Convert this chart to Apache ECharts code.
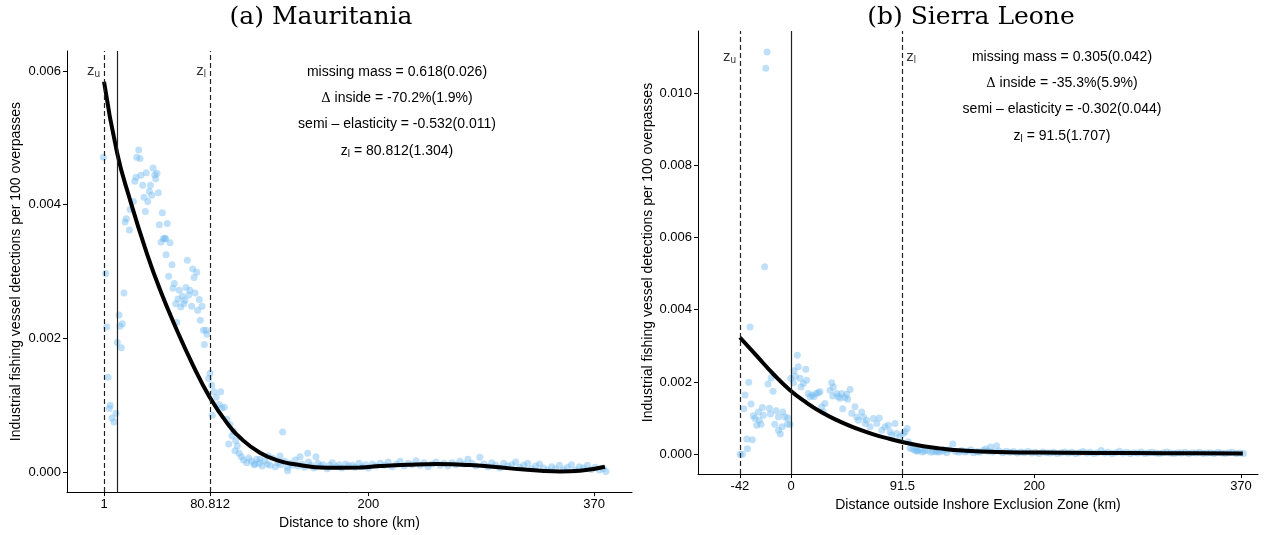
<!DOCTYPE html>
<html><head><meta charset="utf-8">
<script src="https://cdn.jsdelivr.net/npm/echarts@6/dist/echarts.min.js"></script>
<style>html,body{margin:0;padding:0;background:#fff}#c{width:1273px;height:535px}</style>
</head><body><div id="c"></div>
<script>
// ---------- DATA ----------
const titles = ['(a) Mauritania', '(b) Sierra Leone'];
const yName = 'Industrial fishing vessel detections per 100 overpasses';
const xNames = ['Distance to shore (km)', 'Distance outside Inshore Exclusion Zone (km)'];

const xTicksA = [1, 80.812, 200, 370];
const yTicksA = [0, 0.002, 0.004, 0.006];
const xTicksB = [-42, 0, 91.5, 200, 370];
const yTicksB = [0, 0.002, 0.004, 0.006, 0.008, 0.010];

// vertical reference lines: [x, type]
const vLinesA = [[1, 'dashed'], [10.8, 'solid'], [80.812, 'dashed']];
const vLinesB = [[-42, 'dashed'], [0, 'solid'], [91.5, 'dashed']];
// z labels: [x, y, subscript, side]
const zLabelsA = [[1, 0.006, 'u', 'left'], [80.812, 0.006, 'l', 'left']];
const zLabelsB = [[-42, 0.0110, 'u', 'left'], [91.5, 0.0110, 'l', 'right']];

const statsA = ['missing mass = 0.618(0.026)', 'Δ inside = -70.2%(1.9%)', 'semi – elasticity = -0.532(0.011)', '80.812(1.304)'];
const statsB = ['missing mass = 0.305(0.042)', 'Δ inside = -35.3%(5.9%)', 'semi – elasticity = -0.302(0.044)', '91.5(1.707)'];

// Mauritania scatter (distance km, detections)
const pointsA = [
 [0.5,0.00471],[2.3,0.00297],[3,0.00217],[4,0.00142],[5.7,0.001],[5,0.00095],[7,0.00081],[8.5,0.00075],[10,0.00088],
 [11,0.00194],[12.3,0.00235],[13,0.00218],[14,0.00186],[14.8,0.00222],[16,0.00268],
 [16.8,0.00374],[17.8,0.00379],[20.1,0.00362],[20.6,0.00393],[23.1,0.00405],[24.1,0.00435],[25.1,0.00441],[25.6,0.00471],
 [27.1,0.00482],[28.1,0.00469],[28.8,0.00444],[30.1,0.00429],[31.1,0.00411],[32.1,0.0039],[32.8,0.00448],[33.9,0.00405],
 [35.1,0.0042],[35.9,0.00429],[36.9,0.00414],[37.9,0.00455],[39.2,0.00445],[39.9,0.00439],[40.9,0.00447],[41.9,0.00418],
 [42.6,0.0037],[43.9,0.00344],[44.9,0.00388],[45.6,0.00349],[46.7,0.0035],[47.4,0.00349],[47.7,0.00325],[48.6,0.00372],
 [49.7,0.00293],[50.7,0.00343],[52.2,0.0031],[52.9,0.00275],[53.9,0.00282],[55,0.00252],[55.7,0.00224],[56.7,0.00259],
 [57.7,0.00272],[58.7,0.00247],[60,0.00263],[61,0.00252],[62,0.00257],[62.7,0.00276],[63.7,0.00317],[64.8,0.00265],
 [65.7,0.00272],[67,0.00248],[67.8,0.00304],[68.8,0.00291],[69.5,0.00268],[70.8,0.00299],[71.5,0.00242],[72.7,0.00258],
 [73.5,0.00227],[74.8,0.00248],[75.8,0.00212],[76.5,0.00191],[77.8,0.00212],[78.5,0.00206],
 [79.8,0.0014],[80.8,0.00148],[82.1,0.0013],[82.5,0.00085],[83.8,0.0012],[85.5,0.00112],[87.6,0.00101],[88.8,0.0012],
 [89.6,0.00096],[91.6,0.00097],[93.4,0.00079],[94.9,0.00042],[95.9,0.00071],[97.4,0.00054],[98.5,0.00061],[99.6,0.00032],
 [100.2,0.00047],[101.4,0.00039],[102.8,0.00028],[104.4,0.00023],[106,0.00018],[108.4,0.00014],[110,0.00021],
 [112,0.00016],[114,0.00011],[114.7,0.00012],[116,0.00019],[118,0.00013],[118.4,0.00019],[120,0.00009],[122,0.00017],
 [124,0.00012],[124.7,0.00024],[126,0.0001],[128,0.00021],[130,0.00008],[132,0.00014],[133.5,0.00024],[134,0.00011],
 [135.5,0.0006],[137,0.00016],[139,0.00007],[139.3,0.00002],[141,0.00013],[143,0.0001],[145,0.00018],[147,0.00009],
 [148.6,0.00023],[150,0.00012],[152,0.00007],[154.4,0.00028],[155,0.00015],[157,0.0001],[159,0.00006],[160.6,0.00023],
 [162,0.00013],[164,0.00009],[166,0.00011],[169,0.00005],[171,0.0001],[173,0.00014],[176,0.00008],[178,0.00011],
 [180,0.00006],[183,0.00012],[185,0.00009],[188,0.0001],[190,0.00007],[193,0.00013],[195,0.00008],[198,0.00011],
 [200,0.00006],[203,0.00012],[206,0.00009],[209,0.00013],[212,0.0001],[215,0.00015],[218,0.00008],[221,0.00012],
 [224,0.00016],[227,0.00009],[230,0.00013],[233,0.00011],[236,0.00017],[239,0.0001],[242,0.00014],[245,0.00008],
 [248,0.00012],[251,0.00015],[254,0.0001],[257,0.00013],[260,0.00009],[263,0.00014],[266,0.00011],[269,0.00016],
 [272,0.00012],[275,0.00019],[278,0.00013],[281,0.00009],[284,0.00022],[287,0.00012],[290,0.00008],[293,0.00014],
 [296,0.0001],[299,0.00006],[302,0.00013],[305,0.00009],[308,0.00011],[311,0.00015],[314,0.00007],[317,0.0001],
 [320,0.00013],[323,0.00005],[326,0.00009],[329,0.00012],[332,0.00006],[335,0.00003],[338,0.00008],[341,0.00005],
 [344,0.0001],[347,0.00004],[350,0.00007],[353,0.00011],[356,0.00003],[359,0.00008],[362,0.00006],[365,0.0001],
 [368,0.00004],[371,0.00007],[374,0.00003],[377,0.00005],[379,0.00001]
];
// Mauritania fitted curve
const curveA = [
 [1,0.00584],[10.8,0.00478],[20.6,0.00407],[33.1,0.00328],[43.1,0.00273],[55.7,0.00213],[68.2,0.00159],[80,0.00114],
 [93.4,0.00074],[105.9,0.00047],[118.4,0.00029],[131,0.00018],[143.5,0.00012],[168.7,0.000065],[193.7,0.000068],
 [208.8,0.00009],[230,0.00011],[251.5,0.00012],[276.6,0.000104],[306.7,0.000055],[330,0.00002],[344.3,0.000008],
 [359.4,0.00002],[378.2,0.00008]
];

// Sierra Leone scatter
const pointsB = [
 [-41.9,0],[-40,0],[-37.8,0.00164],[-38.9,0.00126],[-36.4,0.00042],[-35.9,0.00015],[-34.8,0.00199],[-33.7,0.00352],
 [-32.9,0.00139],[-31.8,0.0004],[-31,0.00106],[-29.6,0.00099],[-28.2,0.0008],[-26.9,0.00117],[-26.1,0.00094],
 [-24.7,0.00083],[-23.6,0.00129],[-22.8,0.00108],[-21.7,0.00519],[-20.8,0.01069],[-19.7,0.01114],[-18.9,0.00194],
 [-17.8,0.00127],[-17,0.00111],[-16.4,0.00211],[-14.8,0.00174],[-13.4,0.00083],[-12.3,0.0012],[-10.4,0.00103],
 [-10.4,0.00066],[-8.8,0.00056],[-7.4,0.00076],[-6.8,0.00117],[-4.9,0.00103],[-3,0.00083],[-2.7,0.001],[-0.8,0.00083],
 [-0.2,0.0021],[1.9,0.00198],[2.5,0.00231],[3.5,0.00216],[5.2,0.00274],[6,0.00242],[7.4,0.0021],[8.2,0.00186],
 [10.1,0.00196],[12.1,0.00235],[12.9,0.00205],[14.2,0.00168],[15.6,0.00159],[17.5,0.00163],[18.9,0.00159],[20.6,0.00168],
 [22.5,0.0017],[23.8,0.00173],[25.2,0.00131],[26.6,0.00117],[27.9,0.0014],[32.1,0.00177],[33.4,0.00198],[34.8,0.00186],
 [34.3,0.00161],[37.6,0.00168],[38.9,0.00159],[40.3,0.00155],[41.7,0.00168],[42.5,0.00126],[44.4,0.00157],[45.8,0.00166],
 [46.6,0.00152],[48.5,0.00179],[49.9,0.00113],[52.6,0.00131],[54,0.00103],[55.3,0.00094],[58.1,0.00117],[60.9,0.00085],
 [59.5,0.00103],[62.2,0.00094],[65,0.00076],[67.7,0.00099],[70.5,0.00085],[72.6,0.001],[74.6,0.00066],[77.3,0.00076],
 [80,0.0008],[81.4,0.00062],[82.8,0.00053],[85.5,0.00085],[86.9,0.00057],[89.6,0.00048],[92.4,0.00057],[93.8,0.00062],
 [95.6,0.00071],[96.5,0.00034],[97.9,0.00016],
 [100,0.00014],[102,0.0001],[103.4,0.00011],[104,0.00008],[106,0.00012],[108,0.00006],[110,0.00009],[112,0.00011],
 [115,0.00005],[117,0.00008],[119.8,0.00006],[120,0.0001],[122,0.00006],[125,0.00009],[125.2,0.00013],[128,0.00004],
 [130,0.00012],[133,0.00028],[135,0.00007],[138,0.00005],[140,0.0001],[143,0.00006],[145,0.00008],[148,0.00012],
 [150,0.00004],[153,0.00007],[155,0.00005],[158,0.0001],[160,0.00014],[162,0.00008],[164,0.0002],[166,0.00006],
 [169,0.00023],[171,0.00009],[174,0.00004],[177,0.00008],[180,0.00005],[183,0.00007],[186,0.00003],[189,0.00006],
 [192,0.00004],[195,0.00007],[198,0.00003],[201,0.00005],[204,0.00002],[207,0.00006],[210,0.00004],[213,0.00003],
 [216,0.00005],[219,0.00002],[222,0.00004],[225,0.00006],[228,0.00003],[231,0.00005],[234,0.00002],[237,0.00004],
 [240,0.00007],[243,0.00003],[246,0.00005],[249,0.00002],[252,0.00004],[255,0.0001],[258,0.00003],[261,0.00005],
 [264,0.00002],[267,0.00004],[270,0.00008],[273,0.00003],[276,0.00005],[279,0.00002],[282,0.00004],[285,0.00003],
 [288,0.00006],[291,0.00002],[294,0.00004],[297,0.00005],[300,0.00003],[303,0.00002],[306,0.00004],[309,0.00006],
 [312,0.00003],[315,0.00002],[318,0.00004],[321,0.00003],[324,0.00005],[327,0.00002],[330,0.00004],[333,0.00003],
 [336,0.00005],[339,0.00002],[342,0.00003],[345,0.00004],[348,0.00002],[351,0.00005],[354,0.00003],[357,0.00002],
 [360,0.00004],[363,0.00005],[366,0.00002],[369,0.00003],[372,0.00002]
];
const curveB = [
 [-42,0.00323],[-28.2,0.00272],[-14.6,0.00222],[-0.8,0.00177],[12.9,0.00142],[26.6,0.00113],[40.3,0.0009],[54,0.00071],
 [67.7,0.00055],[81.4,0.00042],[95.2,0.00031],[108.8,0.00022],[122,0.00016],[141.7,0.0001],
 [169.2,0.00006],[224,0.00004],[278.8,0.00003],[333.6,0.000025],[371.5,0.00002]
];

// ---------- CHART ----------
const FONT = 'Liberation Sans, Arial, sans-serif';
const chart = echarts.init(document.getElementById('c'), null, {renderer: 'canvas'});

function xAxisCfg(gi, min, max, ticks, name) {
  return {
    type: 'value', gridIndex: gi, min: min, max: max,
    name: name, nameLocation: 'middle', nameGap: 20,
    nameTextStyle: {fontFamily: FONT, fontSize: 14, color: '#000'},
    axisLine: {show: true, onZero: false, lineStyle: {color: '#000', width: 1}},
    axisTick: {show: true, customValues: ticks, length: 4, lineStyle: {color: '#000'}},
    axisLabel: {customValues: ticks, fontFamily: FONT, fontSize: 13, color: '#000', margin: 6,
      formatter: v => String(v)},
    splitLine: {show: false}
  };
}
function yAxisCfg(gi, min, max, ticks, gap) {
  return {
    type: 'value', gridIndex: gi, min: min, max: max,
    name: yName, nameLocation: 'middle', nameGap: gap, nameRotate: 90,
    nameTextStyle: {fontFamily: FONT, fontSize: 14, color: '#000'},
    axisLine: {show: true, onZero: false, lineStyle: {color: '#000', width: 1}},
    axisTick: {show: true, customValues: ticks, length: 4, lineStyle: {color: '#000'}},
    axisLabel: {customValues: ticks, fontFamily: FONT, fontSize: 13, color: '#000', margin: 6,
      formatter: v => v.toFixed(3)},
    splitLine: {show: false}
  };
}
function vLineData(list) {
  return list.map(d => ({xAxis: d[0], lineStyle: {type: d[1] === 'dashed' ? [5, 3] : 'solid', color: '#222', width: 1.2}}));
}
function zLabelSeries(gi, list) {
  return {
    type: 'scatter', xAxisIndex: gi, yAxisIndex: gi, symbolSize: 0, silent: true, z: 5,
    data: list.map(d => ({value: [d[0], d[1]], sub: d[2], label: {position: d[3]}})),
    label: {show: true, distance: 4,
      formatter: p => '{z|z}{s|' + p.data.sub + '}',
      rich: {z: {fontFamily: FONT, fontSize: 15, color: '#000'},
             s: {fontFamily: FONT, fontSize: 10, color: '#000', verticalAlign: 'bottom', padding: [6, 0, 0, 0]}}}
  };
}

const scatterStyle = {color: 'rgba(110,185,240,0.55)'};

const option = {
  animation: false,
  backgroundColor: '#fff',
  grid: [
    {left: 67, top: 51, width: 565, bottom: 42, containLabel: false},
    {left: 698, top: 31, width: 560, bottom: 61, containLabel: false}
  ],
  xAxis: [xAxisCfg(0, -26.9, 398.6, xTicksA, xNames[0]), xAxisCfg(1, -76.5, 384, xTicksB, xNames[1])],
  yAxis: [yAxisCfg(0, -0.0003, 0.0063, yTicksA, 44), yAxisCfg(1, -0.00055, 0.01172, yTicksB, 35)],
  series: [
    {type: 'scatter', xAxisIndex: 0, yAxisIndex: 0, data: pointsA, symbolSize: 7, itemStyle: scatterStyle, z: 2,
     markLine: {silent: true, symbol: 'none', label: {show: false}, data: vLineData(vLinesA)}},
    {type: 'line', xAxisIndex: 0, yAxisIndex: 0, data: curveA, smooth: 0.5, showSymbol: false, z: 3,
     lineStyle: {color: '#000', width: 4}},
    zLabelSeries(0, zLabelsA),
    {type: 'scatter', xAxisIndex: 1, yAxisIndex: 1, data: pointsB, symbolSize: 7, itemStyle: scatterStyle, z: 2,
     markLine: {silent: true, symbol: 'none', label: {show: false}, data: vLineData(vLinesB)}},
    {type: 'line', xAxisIndex: 1, yAxisIndex: 1, data: curveB, smooth: 0.5, showSymbol: false, z: 3,
     lineStyle: {color: '#000', width: 4}},
    zLabelSeries(1, zLabelsB)
  ],
  graphic: []
};

function statBlock(cx, y0, stats) {
  const out = [];
  const gap = 26.3;
  const rich = {d: {fontFamily: 'DejaVu Serif, serif', fontSize: 13, color: '#000'},
                t: {fontFamily: FONT, fontSize: 14, color: '#000'},
                s: {fontFamily: FONT, fontSize: 10, color: '#000', verticalAlign: 'bottom', padding: [6, 0, 0, 0]}};
  const lines = [
    '{t|' + stats[0] + '}',
    '{d|Δ}{t|' + stats[1].slice(1) + '}',
    '{t|' + stats[2] + '}',
    '{t|z}{s|l}{t| = ' + stats[3] + '}'
  ];
  lines.forEach((txt, i) => {
    out.push({type: 'text', x: cx, y: y0 + i * gap, z: 10,
      style: {text: txt, rich: rich, align: 'center', verticalAlign: 'middle', fill: '#000'}});
  });
  return out;
}
option.graphic = [
  {type: 'text', x: 321, y: 17, style: {text: titles[0], font: '25px "DejaVu Serif", serif', fill: '#000', align: 'center', verticalAlign: 'middle'}},
  {type: 'text', x: 971, y: 17, style: {text: titles[1], font: '25px "DejaVu Serif", serif', fill: '#000', align: 'center', verticalAlign: 'middle'}}
].concat(statBlock(397, 72, statsA)).concat(statBlock(1062, 57, statsB));

chart.setOption(option);
</script></body></html>
